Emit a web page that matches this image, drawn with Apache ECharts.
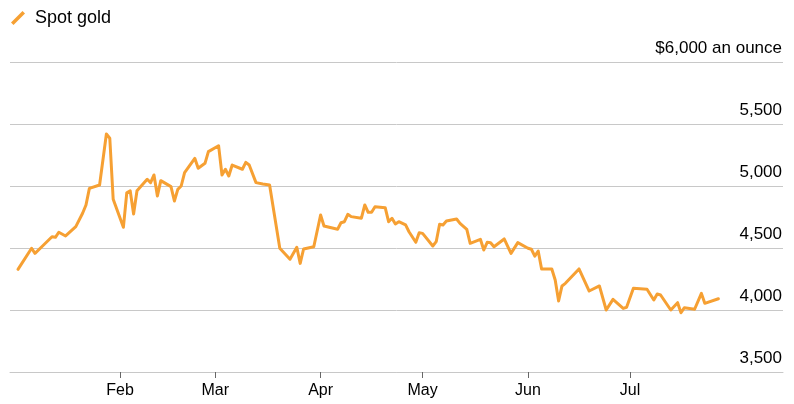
<!DOCTYPE html>
<html>
<head>
<meta charset="utf-8">
<script src="https://cdn.jsdelivr.net/npm/echarts@6/dist/echarts.min.js"></script>
<style>
  html, body { margin: 0; padding: 0; background: #fff; }
  #chart { width: 794px; height: 404px; }
</style>
</head>
<body>
<div id="chart"></div>
<script>
// Spot gold, $ an ounce
const dates = [
  '2026-01-02', '2026-01-06', '2026-01-07', '2026-01-09', '2026-01-12', '2026-01-13', '2026-01-14', '2026-01-16',
  '2026-01-19', '2026-01-21', '2026-01-22', '2026-01-23', '2026-01-26', '2026-01-28', '2026-01-29', '2026-01-30',
  '2026-02-02', '2026-02-03', '2026-02-04', '2026-02-05', '2026-02-06', '2026-02-09', '2026-02-10', '2026-02-11',
  '2026-02-12', '2026-02-13', '2026-02-16', '2026-02-17', '2026-02-18', '2026-02-19', '2026-02-20', '2026-02-23',
  '2026-02-24', '2026-02-26', '2026-02-27', '2026-03-02', '2026-03-03', '2026-03-04', '2026-03-05', '2026-03-06',
  '2026-03-09', '2026-03-10', '2026-03-11', '2026-03-13', '2026-03-15', '2026-03-17', '2026-03-20', '2026-03-23',
  '2026-03-25', '2026-03-26', '2026-03-27', '2026-03-30', '2026-04-01', '2026-04-02', '2026-04-06', '2026-04-07',
  '2026-04-08', '2026-04-09', '2026-04-10', '2026-04-13', '2026-04-14', '2026-04-15', '2026-04-16', '2026-04-17',
  '2026-04-20', '2026-04-21', '2026-04-22', '2026-04-23', '2026-04-24', '2026-04-26', '2026-04-27', '2026-04-29',
  '2026-04-30', '2026-05-01', '2026-05-04', '2026-05-05', '2026-05-06', '2026-05-07', '2026-05-08', '2026-05-11',
  '2026-05-12', '2026-05-14', '2026-05-15', '2026-05-18', '2026-05-19', '2026-05-20', '2026-05-21', '2026-05-22',
  '2026-05-25', '2026-05-27', '2026-05-29', '2026-06-01', '2026-06-02', '2026-06-03', '2026-06-04', '2026-06-05',
  '2026-06-08', '2026-06-09', '2026-06-10', '2026-06-11', '2026-06-12', '2026-06-16', '2026-06-19', '2026-06-22',
  '2026-06-24', '2026-06-26', '2026-06-29', '2026-06-30', '2026-07-02', '2026-07-06', '2026-07-08', '2026-07-09',
  '2026-07-10', '2026-07-13', '2026-07-15', '2026-07-16', '2026-07-17', '2026-07-20', '2026-07-22', '2026-07-23',
  '2026-07-27'
];
const prices = [
  4328, 4498, 4457, 4510, 4591, 4586, 4627, 4597,
  4672, 4780, 4847, 4981, 5008, 5419, 5385, 4893,
  4667, 4946, 4962, 4774, 4962, 5054, 5027, 5089,
  4919, 5043, 4995, 4879, 4973, 5000, 5108, 5223,
  5143, 5183, 5277, 5325, 5089, 5135, 5081, 5169,
  5135, 5191, 5169, 5027, 5016, 5008, 4498, 4409,
  4506, 4376, 4492, 4510, 4766, 4677, 4651, 4704,
  4712, 4772, 4753, 4740, 4847, 4788, 4788, 4833,
  4825, 4712, 4740, 4694, 4712, 4686, 4631, 4546,
  4623, 4618, 4516, 4551, 4691, 4686, 4718, 4734,
  4699, 4651, 4538, 4570, 4484, 4546, 4543, 4510,
  4573, 4457, 4543, 4498, 4490, 4435, 4476, 4331,
  4331, 4242, 4073, 4194, 4215, 4331, 4153, 4194,
  4000, 4086, 4013, 4022, 4175, 4167, 4081, 4129,
  4121, 4000, 4059, 3978, 4019, 4006, 4134, 4054,
  4091
];
const monthTicks = ['2026-02-01', '2026-03-01', '2026-04-01', '2026-05-01', '2026-06-01', '2026-07-01'];
const monthNames = ['Jan', 'Feb', 'Mar', 'Apr', 'May', 'Jun', 'Jul', 'Aug', 'Sep', 'Oct', 'Nov', 'Dec'];

const FONT = '"Liberation Sans", Arial, Helvetica, sans-serif';
const GOLD = '#f6a033';

function toTime(s) {
  const p = s.split('-').map(Number);
  return new Date(p[0], p[1] - 1, p[2]).getTime();
}
function fmtNum(v) {
  return String(v).replace(/\B(?=(\d{3})+(?!\d))/g, ',');
}

const chart = echarts.init(document.getElementById('chart'));

// x is a plain value axis holding timestamps, so month ticks can sit exactly on the 1st
chart.setOption({
  animation: false,
  textStyle: { fontFamily: FONT },
  legend: {
    data: ['Spot gold'],
    left: 11,
    top: 9,
    padding: 0,
    itemWidth: 14,
    itemHeight: 14,
    icon: 'path://M0,11.5 L11.5,0 L14,2.5 L2.5,14 Z',
    textStyle: { fontFamily: FONT, fontSize: 18, color: '#000', padding: [0, 0, 0, 5] }
  },
  grid: {
    left: 10,
    right: 11,
    top: 62,
    bottom: 32,
    outerBoundsMode: 'none'
  },
  xAxis: {
    type: 'value',
    min: new Date(2025, 11, 30, 15, 36).getTime(),
    max: new Date(2026, 7, 15).getTime(),
    axisLine: { show: true, lineStyle: { color: '#c8c8c8', width: 1 } },
    axisTick: {
      show: true,
      length: 6,
      customValues: monthTicks.map(toTime),
      lineStyle: { color: '#666' }
    },
    splitLine: { show: false },
    axisLabel: {
      customValues: monthTicks.map(toTime),
      margin: 11,
      fontSize: 16,
      color: '#000',
      fontFamily: FONT,
      formatter: v => monthNames[new Date(v).getMonth()]
    }
  },
  yAxis: {
    type: 'value',
    position: 'right',
    min: 3500,
    max: 6000,
    interval: 500,
    axisLine: { show: false },
    axisTick: { show: false },
    splitLine: { show: true, lineStyle: { color: '#c8c8c8', width: 1 } },
    axisLabel: {
      inside: true,
      margin: 1,
      align: 'right',
      verticalAlign: 'bottom',
      padding: [0, 0, 5, 0],
      fontSize: 17,
      color: '#000',
      fontFamily: FONT,
      formatter: v => v === 6000 ? '$6,000 an ounce' : fmtNum(v)
    }
  },
  series: [{
    name: 'Spot gold',
    type: 'line',
    data: dates.map((d, i) => [toTime(d), prices[i]]),
    showSymbol: false,
    symbol: 'none',
    lineStyle: { color: GOLD, width: 3, join: 'round', cap: 'round' },
    itemStyle: { color: GOLD }
  }]
});
</script>
</body>
</html>
